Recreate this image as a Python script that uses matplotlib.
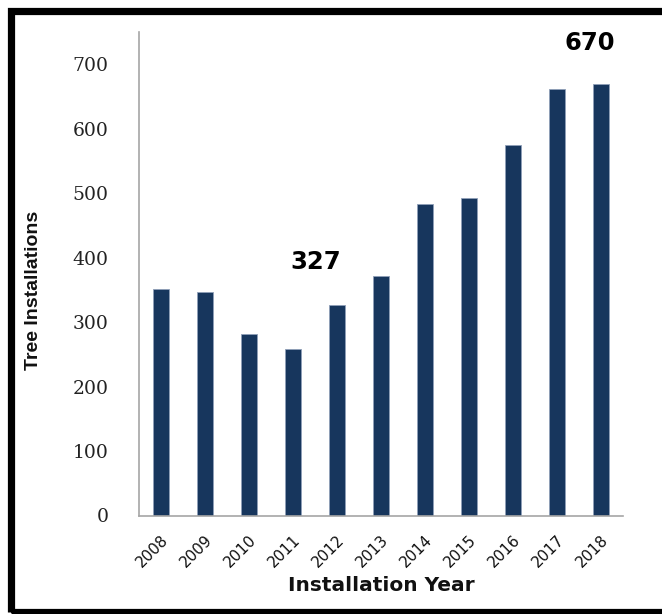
import matplotlib.pyplot as plt
from matplotlib.patches import Rectangle

years = ['2008', '2009', '2010', '2011', '2012', '2013',
         '2014', '2015', '2016', '2017', '2018']
installs = [351, 346, 282, 259, 327, 371, 483, 492, 575, 662, 670]

# callouts: (bar index, x shift, y shift)
callouts = [(4, -0.49, 67), (10, -0.25, 63)]

bar_color = '#17365d'
W, H = 662, 614

fig = plt.figure(figsize=(W / 100, H / 100), dpi=100)
ax = fig.add_axes([139 / W, 1 - 515.5 / H, (623 - 139) / W, (515.5 - 32) / H])

x = list(range(len(years)))
ax.bar(x, installs, width=0.385, color=bar_color, edgecolor='#8f9fb8', linewidth=0.6)

ax.set_xlim(-0.5, len(years) - 0.5)
ax.set_ylim(0, 750)
ax.set_yticks(range(0, 701, 100))
ax.set_yticklabels([str(v) for v in range(0, 701, 100)],
                   family='DejaVu Serif', fontsize=13.5, color='#222222')
ax.set_xticks(x)
ax.set_xticklabels(years, rotation=45, ha='right', rotation_mode='anchor',
                   family='DejaVu Sans', fontsize=11, color='#111111')
ax.tick_params(axis='both', length=0)
ax.tick_params(axis='y', pad=22)
ax.tick_params(axis='x', pad=12)

for side in ('top', 'right'):
    ax.spines[side].set_visible(False)
for side in ('left', 'bottom'):
    ax.spines[side].set_color('#a6a6a6')
    ax.spines[side].set_linewidth(1.2)

ax.set_xlabel('Installation Year', family='DejaVu Sans', fontweight='bold',
              fontsize=14.5, color='#111111', labelpad=4)
fig.text(34 / W, 1 - 290 / H, 'Tree Installations', rotation=90,
         ha='center', va='center', fontweight='bold', fontsize=14,
         family=['Liberation Sans', 'DejaVu Sans'], color='#111111')

for i, dx, dy in callouts:
    ax.text(i + dx, installs[i] + dy, str(installs[i]), ha='center', va='center',
            family='DejaVu Sans', fontweight='bold', fontsize=17.5, color='black')

# black frame round the figure (right side runs off the edge)
fig.add_artist(Rectangle((10.5 / W, 1 - 611.5 / H), (690 - 10.5) / W, (611.5 - 10.5) / H,
                         transform=fig.transFigure, fill=False,
                         edgecolor='black', linewidth=5.2))

fig.savefig('out.png', dpi=100)
